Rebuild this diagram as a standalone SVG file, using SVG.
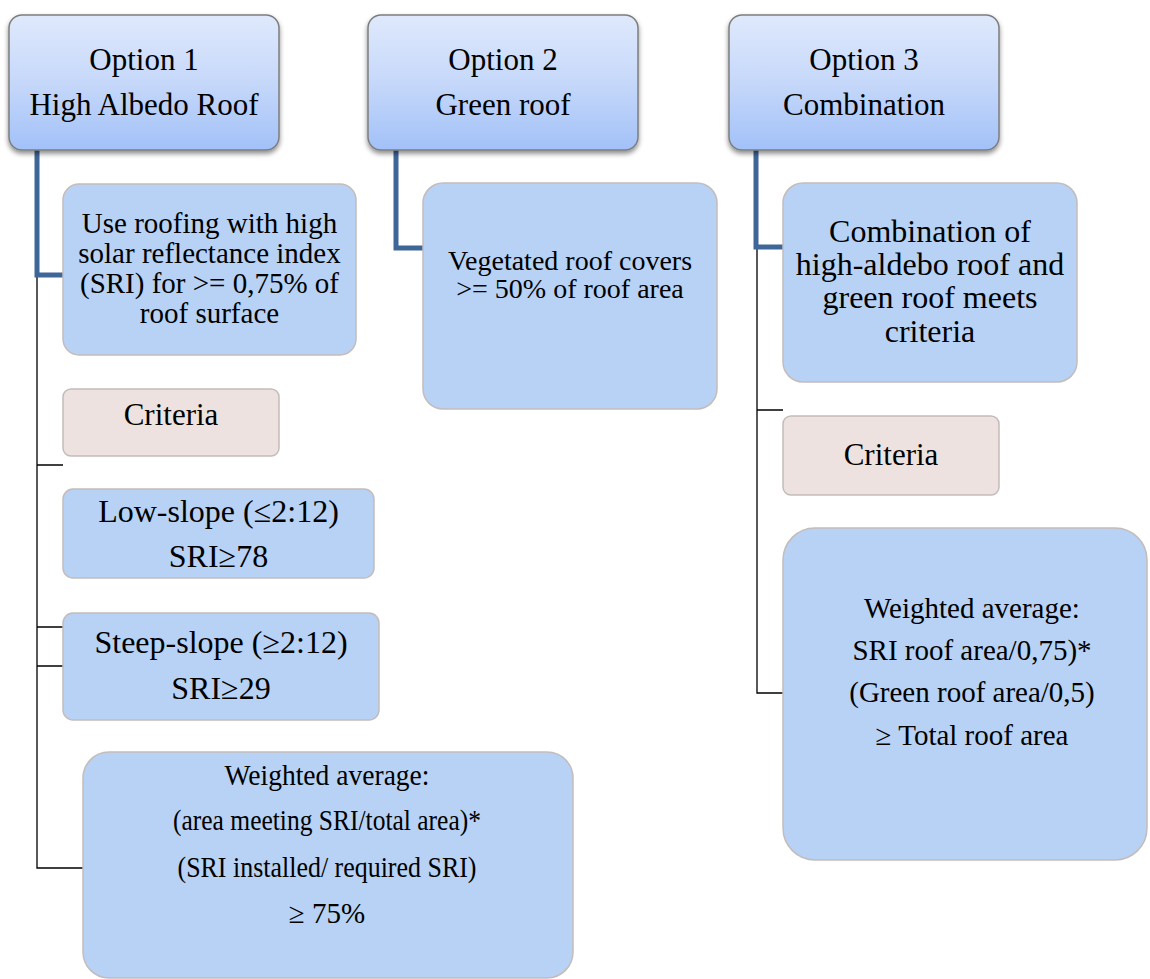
<svg xmlns="http://www.w3.org/2000/svg" width="1150" height="979" viewBox="0 0 1150 979">
<defs>
<linearGradient id="gOpt" x1="0" y1="0" x2="0" y2="1">
<stop offset="0" stop-color="#dfe9fc"/>
<stop offset="0.5" stop-color="#c6d8fa"/>
<stop offset="1" stop-color="#a2c1f8"/>
</linearGradient>
<filter id="sh" x="-10%" y="-10%" width="120%" height="130%">
<feDropShadow dx="0" dy="3" stdDeviation="2.5" flood-color="#000" flood-opacity="0.45"/>
</filter>
</defs>
<style>
text{fill:#000;text-anchor:middle}
.opt{fill:url(#gOpt);stroke:#7d7d7d;stroke-width:1.5;filter:url(#sh)}
.sub{fill:#b7d2f5;stroke:#c4bcba;stroke-width:1.5}
.crit{fill:#ede2df;stroke:#c4bcba;stroke-width:1.5}
.thick{fill:none;stroke:#3e6699;stroke-width:5}
.thin{fill:none;stroke:#000;stroke-width:1.3}
.f31{font-size:31px}
.f32{font-size:32px}
.f29{font-size:29px}
.f28{font-size:28px}
</style>
<rect width="1150" height="979" fill="#fff"/>
<g id="connectors">
<path class="thin" d="M37 275V868H83M37 465H63M37 627H63M37 666H63"/>
<path class="thin" d="M757 247V693H783M757 410H783"/>
<path class="thick" d="M37 150V275H63"/>
<path class="thick" d="M396 150V248H423"/>
<path class="thick" d="M756 150V247H783"/>
</g>
<g id="nodes" font-family="Liberation Serif, Times New Roman, serif">
<g id="option1">
<rect class="opt" x="9" y="15" width="270" height="135" rx="13"/>
<text class="f31" x="144" y="70">Option 1</text>
<text class="f31" x="144" y="115">High Albedo Roof</text>
</g>
<g id="option2">
<rect class="opt" x="368" y="15" width="270" height="135" rx="13"/>
<text class="f31" x="503" y="70">Option 2</text>
<text class="f31" x="503" y="115">Green roof</text>
</g>
<g id="option3">
<rect class="opt" x="729" y="15" width="270" height="135" rx="13"/>
<text class="f31" x="864" y="70">Option 3</text>
<text class="f31" x="864" y="115">Combination</text>
</g>
<g id="sri-roofing">
<rect class="sub" x="63" y="184" width="293" height="171" rx="16"/>
<text class="f29" x="209.5" y="233">Use roofing with high</text>
<text class="f29" x="209.5" y="263">solar reflectance index</text>
<text class="f29" x="209.5" y="293">(SRI) for &gt;= 0,75% of</text>
<text class="f29" x="209.5" y="323">roof surface</text>
</g>
<g id="criteria1">
<rect class="crit" x="63" y="389" width="216" height="67" rx="8"/>
<text class="f31" x="171" y="425">Criteria</text>
</g>
<g id="low-slope">
<rect class="sub" x="63" y="489" width="311" height="89" rx="10"/>
<text class="f32" x="218.5" y="522">Low-slope (≤2:12)</text>
<text class="f32" x="218.5" y="567">SRI≥78</text>
</g>
<g id="steep-slope">
<rect class="sub" x="63" y="613" width="316" height="107" rx="10"/>
<text class="f32" x="221" y="653">Steep-slope (≥2:12)</text>
<text class="f32" x="221" y="699">SRI≥29</text>
</g>
<g id="weighted1">
<rect class="sub" x="83" y="752" width="490" height="226" rx="26"/>
<text class="f29" x="327" y="785" textLength="205" lengthAdjust="spacingAndGlyphs">Weighted average:</text>
<text class="f29" x="327" y="830" textLength="308" lengthAdjust="spacingAndGlyphs">(area meeting SRI/total area)*</text>
<text class="f29" x="327" y="877" textLength="299" lengthAdjust="spacingAndGlyphs">(SRI installed/ required SRI)</text>
<text class="f29" x="327" y="923">≥ 75%</text>
</g>
<g id="vegetated">
<rect class="sub" x="423" y="183" width="294" height="226" rx="20"/>
<text class="f28" x="570" y="270">Vegetated roof covers</text>
<text class="f28" x="570" y="298">&gt;= 50% of roof area</text>
</g>
<g id="combination">
<rect class="sub" x="783" y="183" width="294" height="199" rx="20"/>
<text class="f32" x="930" y="242">Combination of</text>
<text class="f32" x="930" y="275">high-aldebo roof and</text>
<text class="f32" x="930" y="308">green roof meets</text>
<text class="f32" x="930" y="342">criteria</text>
</g>
<g id="criteria3">
<rect class="crit" x="783" y="416" width="216" height="79" rx="8"/>
<text class="f31" x="891" y="465">Criteria</text>
</g>
<g id="weighted3">
<rect class="sub" x="783" y="528" width="364" height="332" rx="32"/>
<text class="f29" x="972" y="618">Weighted average:</text>
<text class="f29" x="972" y="660">SRI roof area/0,75)*</text>
<text class="f29" x="972" y="702">(Green roof area/0,5)</text>
<text class="f29" x="972" y="745">≥ Total roof area</text>
</g>
</g>
</svg>
